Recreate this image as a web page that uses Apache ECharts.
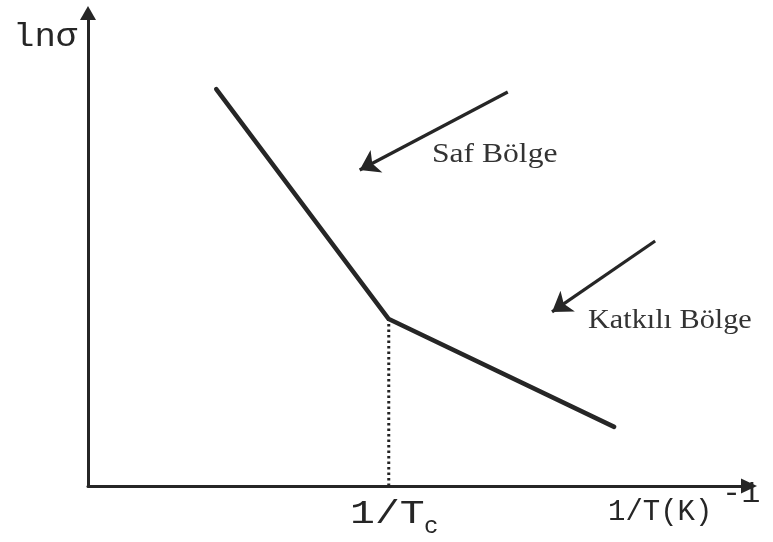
<!DOCTYPE html>
<html>
<head>
<meta charset="utf-8">
<style>
  html, body { margin: 0; padding: 0; background: #ffffff; }
  #chart { width: 773px; height: 542px; }
</style>
<script src="https://cdn.jsdelivr.net/npm/echarts@6/dist/echarts.min.js"></script>
</head>
<body>
<div id="chart"></div>
<script>
// ln(sigma) versus 1/T: two straight regions meeting at 1/Tc
const curveX = [19.4, 45.5, 79.6];
const curveY = [83.9, 35.3, 12.5];

// position of 1/Tc on the horizontal axis (the break point)
const breakX = 45.5;
const breakY = 35.3;

// annotation arrows: [tailX, tailY, tipX, tipY]
const arrowSaf = [63.5, 83.3, 41.1, 66.8];
const arrowKatkili = [85.8, 51.8, 70.2, 36.8];

const labelY = 'lnσ';
const labelTc = '1/T';
const labelTcSub = 'c';
const labelX = '1/T(K)';
const labelXSup = '-1';
const labelSaf = 'Saf Bölge';
const labelKatkili = 'Katkılı Bölge';

const ink = '#262626';
const mono = '"Liberation Mono", "DejaVu Sans Mono", monospace';
const serif = '"Liberation Serif", "DejaVu Serif", serif';

const chart = echarts.init(document.getElementById('chart'));

const curveData = curveX.map((x, i) => [x, curveY[i]]);

chart.setOption({
  backgroundColor: '#ffffff',
  animation: false,
  grid: { left: 88, right: 24, top: 13, bottom: 56 },
  xAxis: {
    type: 'value', min: 0, max: 100,
    axisLine: {
      show: true, onZero: false,
      symbol: ['none', 'triangle'], symbolSize: [15, 16],
      lineStyle: { color: ink, width: 3 }
    },
    axisTick: { show: false }, axisLabel: { show: false }, splitLine: { show: false }
  },
  yAxis: {
    type: 'value', min: 0, max: 100,
    axisLine: {
      show: true, onZero: false,
      symbol: ['none', 'triangle'], symbolSize: [16, 14],
      lineStyle: { color: ink, width: 3 }
    },
    axisTick: { show: false }, axisLabel: { show: false }, splitLine: { show: false }
  },
  series: [
    {
      type: 'line',
      data: [[breakX, 0], [breakX, breakY]],
      symbol: 'none',
      lineStyle: { color: '#222', width: 3, type: [2.5, 3] },
      z: 2
    },
    {
      type: 'line',
      data: curveData,
      symbol: 'none',
      lineStyle: { color: ink, width: 4.5, cap: 'round', join: 'round' },
      z: 3
    },
    {
      type: 'lines',
      coordinateSystem: 'cartesian2d',
      symbol: ['none', 'arrow'],
      symbolSize: 19,
      lineStyle: { color: ink, width: 3.2, opacity: 1 },
      data: [
        { coords: [[arrowSaf[0], arrowSaf[1]], [arrowSaf[2], arrowSaf[3]]] },
        { coords: [[arrowKatkili[0], arrowKatkili[1]], [arrowKatkili[2], arrowKatkili[3]]] }
      ],
      z: 4
    }
  ],
  graphic: [
    { type: 'text', x: 13, y: 37, scaleX: 1.08,
      style: { text: labelY, font: '33px ' + mono, fill: ink, verticalAlign: 'middle' } },
    { type: 'text', x: 350, y: 514, scaleX: 1.22,
      style: { text: labelTc, font: '34px ' + mono, fill: ink, verticalAlign: 'middle' } },
    { type: 'text', x: 424, y: 527,
      style: { text: labelTcSub, font: '24px ' + mono, fill: ink, verticalAlign: 'middle' } },
    { type: 'text', x: 608, y: 512,
      style: { text: labelX, font: '29px ' + mono, fill: ink, verticalAlign: 'middle' } },
    { type: 'text', x: 722, y: 494, scaleX: 1.1,
      style: { text: labelXSup, font: '29px ' + mono, fill: ink, verticalAlign: 'middle' } },
    { type: 'text', x: 432, y: 155, scaleX: 1.17,
      style: { text: labelSaf, font: '27px ' + serif, fill: '#333', verticalAlign: 'middle' } },
    { type: 'text', x: 588, y: 321, scaleX: 1.12,
      style: { text: labelKatkili, font: '27px ' + serif, fill: '#333', verticalAlign: 'middle' } }
  ]
});
</script>
</body>
</html>
